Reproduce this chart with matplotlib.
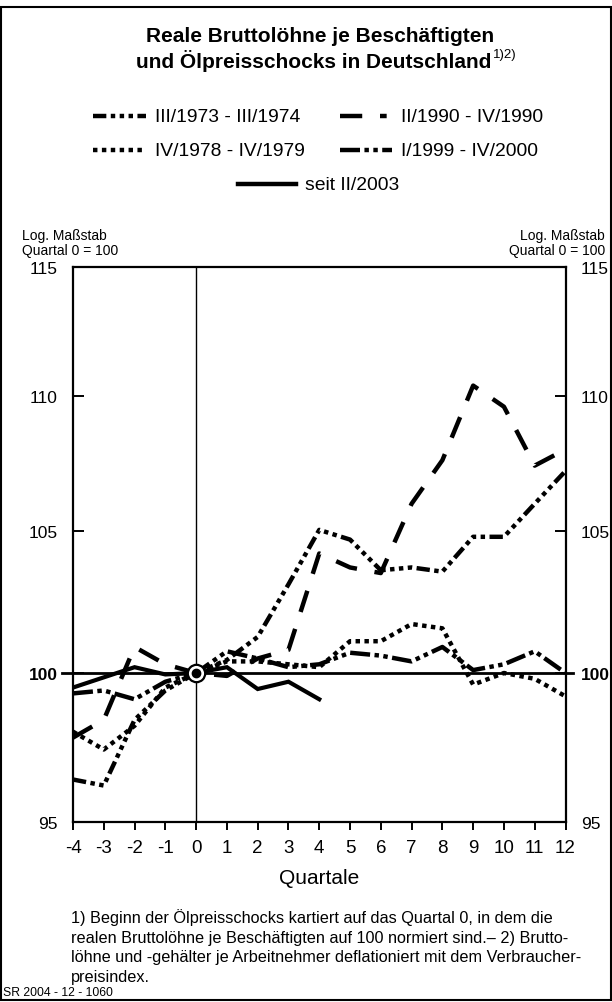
import matplotlib.pyplot as plt
from matplotlib.lines import Line2D
from matplotlib.patches import Rectangle
from matplotlib.ticker import NullLocator

plt.rcParams['font.family'] = ['Liberation Sans', 'DejaVu Sans']
plt.rcParams['axes.unicode_minus'] = False

# Daten, Quartal 0 = 100
quartale = list(range(-4, 13))
quartale_2003 = list(range(-4, 5))
basis = 100

werte_1973 = [96.4, 96.2, 98.4, 99.4, 100, 100.45, 101.25, 103.1, 105.05,
              104.7, 103.6, 103.7, 103.55, 104.8, 104.8, 106.0, 107.2]
werte_1990 = [97.8, 98.4, 100.9, 100.3, 100, 99.9, 100.5, 100.8, 104.2,
              103.7, 103.5, 106.0, 107.6, 110.4, 109.6, 107.4, 108.0]
werte_1978 = [98.0, 97.4, 98.2, 99.5, 100, 100.4, 100.4, 100.3, 100.2,
              101.1, 101.1, 101.7, 101.55, 99.6, 100.0, 99.8, 99.2]
werte_1999 = [99.3, 99.4, 99.1, 99.7, 100, 100.75, 100.5, 100.2, 100.3,
              100.7, 100.6, 100.4, 100.9, 100.1, 100.3, 100.75, 100.0]
werte_2003 = [99.5, 99.85, 100.2, 99.95, 100, 100.2, 99.45, 99.7, 99.1]

y_ticks = [95, 100, 105, 110, 115]

W, H = 612, 1003
fig = plt.figure(figsize=(W / 100, H / 100), dpi=100)


def fx(p):
    return p / W


def fy(p):
    return 1 - p / H


LW = 3.2
stile = {
    '1973': (0, (3, 1, 1, 1, 1, 1, 1, 1)),
    '1990': (0, (5, 4)),
    '1978': (0, (1, 1)),
    '1999': (0, (4.5, 1, 1, 1, 1, 1)),
    '2003': '-',
}

ax = fig.add_axes([fx(73), fy(823), (565.5 - 73) / W, (823 - 268) / H])
ax.set_yscale('log')

ax.axvline(0, color='black', lw=1, zorder=1)
ax.axhline(basis, xmin=-0.022, xmax=1.016, color='black', lw=2, clip_on=False, zorder=1)

ax.plot(quartale, werte_1973, color='black', lw=LW, ls=stile['1973'], dash_capstyle='butt')
ax.plot(quartale, werte_1990, color='black', lw=LW, ls=stile['1990'], dash_capstyle='butt')
ax.plot(quartale, werte_1978, color='black', lw=LW, ls=stile['1978'], dash_capstyle='butt')
ax.plot(quartale, werte_1999, color='black', lw=LW, ls=stile['1999'], dash_capstyle='butt')
ax.plot(quartale_2003, werte_2003, color='black', lw=3.0, ls='-', solid_joinstyle='miter')

ax.plot([0], [basis], 'o', ms=12.5, mfc='white', mec='black', mew=1.6, zorder=6)
ax.plot([0], [basis], 'o', ms=6, color='black', zorder=7)

ax.set_xlim(-4, 12)
ax.set_ylim(95, 115)
ax.set_xticks(quartale)
ax.set_yticks(y_ticks)
ax.set_yticklabels([str(v) for v in y_ticks])
ax.yaxis.set_minor_locator(NullLocator())

ax.tick_params(axis='y', left=True, right=True, labelleft=True, labelright=True,
               direction='in', length=8, width=1.4, labelsize=12.5, pad=11)
ax.tick_params(axis='x', direction='out', length=6, width=1.4, labelsize=13.5, pad=6)
for t in ax.yaxis.get_major_ticks():
    if t.label1.get_text() == '100':
        t.label1.set_fontweight('bold')
        t.label2.set_fontweight('bold')
for s in ax.spines.values():
    s.set_linewidth(1.6)
ax.set_xlabel('Quartale', fontsize=15, labelpad=9)

# Titel
fig.text(fx(320), fy(37), 'Reale Bruttolöhne je Beschäftigten', ha='center', va='center',
         fontsize=15, fontweight='bold')
t2 = fig.text(fx(314), fy(61), 'und Ölpreisschocks in Deutschland', ha='center', va='center',
              fontsize=15, fontweight='bold')
fig.canvas.draw()
bb = t2.get_window_extent()
fig.text(bb.x1 / W + 0.002, fy(55), '1)2)', ha='left', va='center', fontsize=9.5)

# Legende
def legende(x0, x1, y, stil, text):
    fig.add_artist(Line2D([fx(x0), fx(x1)], [fy(y), fy(y)], transform=fig.transFigure,
                          color='black', lw=LW, ls=stil, dash_capstyle='butt'))
    fig.text(fx(x1 + 9), fy(y), text, ha='left', va='center', fontsize=13.9)

legende(93, 146, 117, stile['1973'], 'III/1973 - III/1974')
legende(340, 392, 117, (0, (5, 4, 1.5, 4)), 'II/1990 - IV/1990')
legende(93, 146, 151, stile['1978'], 'IV/1978 - IV/1979')
legende(340, 392, 151, stile['1999'], 'I/1999 - IV/2000')
legende(238, 296, 185, '-', 'seit II/2003')

# Achsenbeschriftungen
fig.text(fx(22), fy(236), 'Log. Maßstab', ha='left', va='center', fontsize=10)
fig.text(fx(22), fy(251), 'Quartal 0 = 100', ha='left', va='center', fontsize=10)
fig.text(fx(605), fy(236), 'Log. Maßstab', ha='right', va='center', fontsize=10)
fig.text(fx(605), fy(251), 'Quartal 0 = 100', ha='right', va='center', fontsize=10)

fussnote = ('1) Beginn der Ölpreisschocks kartiert auf das Quartal 0, in dem die\n'
            'realen Bruttolöhne je Beschäftigten auf 100 normiert sind.– 2) Brutto-\n'
            'löhne und -gehälter je Arbeitnehmer deflationiert mit dem Verbraucher-\n'
            'preisindex.')
fig.text(fx(71), fy(909), fussnote, ha='left', va='top', fontsize=11.7, linespacing=1.38)
fig.text(fx(3), fy(993), 'SR 2004 - 12 - 1060', ha='left', va='center', fontsize=8.8)

fig.add_artist(Rectangle((fx(1), fy(1001)), fx(610), (1001 - 8) / H, transform=fig.transFigure,
                         fill=False, lw=1.5, ec='black'))

fig.savefig('out.png', dpi=100)
